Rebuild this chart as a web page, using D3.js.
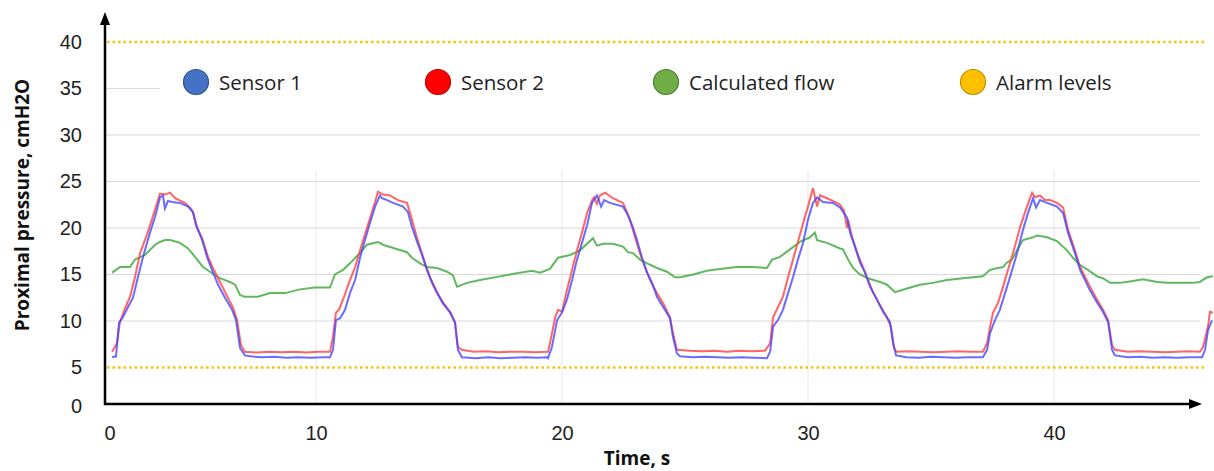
<!DOCTYPE html>
<html>
<head>
<meta charset="utf-8">
<script src="https://cdn.jsdelivr.net/npm/d3@7"></script>
<style>
  body { margin: 0; background: #fff; }
  svg { display: block; font-family: "Open Sans", "Noto Sans", sans-serif; }
</style>
</head>
<body>
<div id="chart"></div>
<script>
// [time s, pressure cmH2O]
const sensor1 = [
  [1.71,6.1],[1.87,6.2],[1.99,9.8],[2.15,10.4],[2.36,11.5],[2.56,12.5],[2.76,14.7],[2.97,16.9],[3.25,19.5],[3.46,21.2],
  [3.66,23.3],[3.78,23.5],[3.86,22.1],[3.98,22.9],[4.15,22.8],[4.47,22.7],[4.80,22.3],[5.00,21.7],[5.16,20.1],[5.37,18.7],
  [5.57,16.9],[5.77,15.5],[6.02,13.9],[6.30,12.5],[6.59,11.2],[6.75,10.1],[6.91,7.1],[7.11,6.3],[7.32,6.2],[7.8,6.1],
  [8.3,6.15],[8.8,6.05],[9.3,6.1],[9.8,6.05],[10.3,6.1],[10.57,6.1],[10.69,6.9],[10.81,10.1],[10.98,10.3],[11.18,11.2],
  [11.38,13.0],[11.59,14.4],[11.79,16.8],[11.99,18.7],[12.20,20.6],[12.40,22.3],[12.60,23.5],[12.68,23.2],[12.89,23.0],[13.13,22.7],
  [13.54,22.3],[13.74,21.7],[13.90,20.1],[14.11,18.5],[14.31,17.1],[14.51,15.5],[14.72,14.1],[14.92,13.0],[15.16,11.9],[15.45,10.9],
  [15.65,9.8],[15.77,6.9],[15.93,6.1],[16.5,6.0],[17.0,6.1],[17.5,6.0],[18.0,6.05],[18.5,6.1],[19.0,6.05],[19.39,6.1],
  [19.43,6.0],[19.59,7.2],[19.80,10.1],[20.00,10.9],[20.20,12.3],[20.41,14.4],[20.61,16.6],[20.81,18.4],[21.02,20.3],[21.22,22.7],
  [21.42,23.5],[21.59,22.3],[21.71,23.0],[21.95,22.7],[22.48,22.3],[22.64,21.6],[22.85,20.3],[23.05,18.7],[23.25,16.8],[23.46,15.2],
  [23.66,14.1],[23.86,12.6],[24.11,11.5],[24.39,10.3],[24.51,8.3],[24.67,6.5],[24.80,6.2],[25.3,6.1],[25.8,6.15],[26.3,6.1],
  [26.8,6.05],[27.3,6.1],[27.8,6.05],[28.33,6.0],[28.46,6.7],[28.58,9.4],[28.78,10.1],[28.98,11.2],[29.19,13.0],[29.39,14.7],
  [29.59,16.6],[29.80,18.4],[30.00,20.9],[30.20,22.7],[30.37,23.3],[30.61,22.8],[31.02,22.7],[31.30,22.2],[31.59,21.1],[31.71,19.5],
  [31.91,18.0],[32.11,16.3],[32.32,15.2],[32.52,13.7],[32.80,12.3],[33.05,11.0],[33.33,9.9],[33.46,7.6],[33.58,6.3],[34.0,6.1],
  [34.5,6.05],[35.0,6.15],[35.5,6.1],[36.0,6.05],[36.5,6.1],[37.11,6.1],[37.28,6.9],[37.40,8.7],[37.60,10.1],[37.80,11.2],
  [38.01,13.0],[38.21,14.7],[38.50,17.3],[38.74,19.8],[38.94,21.6],[39.15,23.2],[39.27,22.2],[39.43,23.0],[39.72,22.7],[40.12,22.3],
  [40.37,21.6],[40.57,19.5],[40.85,17.3],[41.06,15.5],[41.26,14.4],[41.46,13.3],[41.75,12.0],[41.99,11.0],[42.20,9.9],[42.36,6.9],
  [42.48,6.3],[43.0,6.1],[43.5,6.15],[44.0,6.05],[44.5,6.1],[45.0,6.05],[45.5,6.1],[46.02,6.1],[46.14,6.9],[46.26,9.0],[46.42,10.1]
];

const sensor2 = [
  [1.71,6.7],[1.91,7.6],[2.03,9.9],[2.24,11.4],[2.44,12.6],[2.64,14.7],[2.85,17.3],[3.13,19.3],[3.33,20.9],[3.54,22.7],
  [3.66,23.7],[3.86,23.6],[4.07,23.8],[4.27,23.2],[4.67,22.7],[4.88,22.2],[5.00,21.7],[5.12,20.3],[5.37,18.9],[5.61,16.9],
  [5.81,15.7],[6.10,14.2],[6.38,12.7],[6.63,11.4],[6.79,10.1],[6.95,7.4],[7.11,6.7],[7.6,6.6],[8.1,6.7],[8.6,6.65],
  [9.1,6.7],[9.6,6.6],[10.1,6.7],[10.57,6.7],[10.69,8.3],[10.81,10.9],[10.93,11.2],[11.14,12.6],[11.38,14.4],[11.59,15.8],
  [11.79,17.6],[11.99,19.3],[12.20,21.1],[12.40,22.8],[12.52,23.9],[12.72,23.6],[13.01,23.5],[13.33,23.0],[13.70,22.7],[13.90,20.9],
  [14.11,18.9],[14.35,16.9],[14.63,14.7],[14.92,13.1],[15.16,12.0],[15.45,11.0],[15.65,9.9],[15.77,7.2],[15.93,6.9],[16.4,6.7],
  [16.9,6.75],[17.4,6.65],[17.9,6.7],[18.4,6.7],[18.9,6.65],[19.43,6.7],[19.51,7.6],[19.72,10.4],[19.84,11.2],[20.00,11.0],
  [20.20,13.3],[20.41,15.5],[20.61,17.6],[20.81,19.5],[21.02,21.6],[21.22,23.0],[21.30,23.3],[21.42,22.6],[21.54,23.5],[21.75,23.8],
  [22.07,23.2],[22.48,22.7],[22.64,21.7],[22.76,20.9],[22.97,19.0],[23.17,17.3],[23.37,15.8],[23.58,14.4],[23.86,13.0],[24.11,11.9],
  [24.39,10.4],[24.51,8.7],[24.67,6.9],[25.2,6.8],[25.7,6.75],[26.2,6.8],[26.7,6.7],[27.2,6.8],[27.7,6.75],[28.25,6.8],
  [28.46,7.6],[28.58,10.4],[28.78,11.5],[28.98,12.6],[29.19,14.7],[29.39,16.6],[29.59,18.5],[29.80,20.5],[30.00,22.3],[30.20,24.3],
  [30.37,22.3],[30.49,23.5],[30.77,23.2],[31.18,22.7],[31.30,22.5],[31.46,21.9],[31.59,20.0],[31.63,20.9],[31.79,19.0],[31.99,17.4],
  [32.20,16.0],[32.40,14.7],[32.64,13.1],[32.93,11.7],[33.21,10.4],[33.37,9.4],[33.50,7.1],[33.6,6.7],[34.1,6.75],[34.6,6.7],
  [35.1,6.65],[35.6,6.7],[36.1,6.75],[36.6,6.7],[37.11,6.7],[37.28,7.6],[37.40,9.4],[37.52,10.9],[37.72,11.9],[37.93,13.7],
  [38.13,15.5],[38.41,18.0],[38.62,20.1],[38.90,22.3],[39.11,23.8],[39.23,23.3],[39.43,23.5],[39.63,23.0],[39.84,23.0],[40.12,22.7],
  [40.37,22.2],[40.57,19.8],[40.85,17.6],[41.06,15.8],[41.46,13.7],[41.75,12.3],[41.99,11.2],[42.20,10.1],[42.36,7.4],[42.48,6.9],
  [43.0,6.7],[43.5,6.75],[44.0,6.7],[44.5,6.65],[45.0,6.7],[45.5,6.75],[45.93,6.7],[46.06,7.2],[46.26,9.4],[46.34,11.0],[46.46,10.9]
];

const calculatedFlow = [
  [1.71,15.2],[2.03,15.8],[2.44,15.8],[2.64,16.6],[3.05,17.1],[3.46,18.2],[3.66,18.5],[3.86,18.7],[4.07,18.7],[4.47,18.4],
  [4.80,17.8],[5.08,16.9],[5.41,15.8],[5.69,15.3],[6.10,14.6],[6.50,14.2],[6.71,13.9],[6.91,12.8],[7.11,12.6],[7.64,12.6],
  [8.13,13.0],[8.74,13.0],[9.35,13.4],[9.96,13.6],[10.57,13.6],[10.77,15.0],[11.10,15.5],[11.38,16.2],[11.71,17.1],[12.07,18.2],
  [12.52,18.5],[12.72,18.2],[13.21,17.8],[13.70,17.4],[13.90,16.8],[14.23,16.2],[14.51,15.8],[14.92,15.7],[15.33,15.3],[15.57,14.9],
  [15.73,13.7],[16.14,14.1],[16.67,14.4],[17.48,14.8],[18.29,15.2],[18.78,15.4],[19.11,15.2],[19.51,15.6],[19.84,16.8],[20.33,17.1],
  [20.73,17.6],[21.26,18.9],[21.42,18.1],[21.67,18.3],[22.07,18.3],[22.48,18.0],[22.68,17.4],[22.89,17.3],[23.17,16.6],[23.46,16.2],
  [23.86,15.7],[24.27,15.3],[24.59,14.7],[24.80,14.7],[25.33,15.0],[25.89,15.4],[26.42,15.6],[27.11,15.8],[27.76,15.8],[28.33,15.7],
  [28.54,16.6],[28.86,16.9],[29.27,17.7],[29.67,18.5],[30.08,19.0],[30.28,19.5],[30.37,18.7],[30.77,18.4],[31.30,17.8],[31.42,17.7],
  [31.63,16.6],[31.83,15.7],[32.11,15.0],[32.44,14.6],[32.93,14.2],[33.21,13.9],[33.54,13.1],[34.02,13.5],[34.55,13.9],[35.08,14.1],
  [35.65,14.4],[36.30,14.6],[37.11,14.8],[37.40,15.5],[37.72,15.7],[37.93,15.8],[38.09,16.3],[38.29,16.6],[38.50,17.6],[38.74,18.7],
  [39.15,19.0],[39.31,19.2],[39.72,19.0],[40.12,18.6],[40.53,17.6],[40.77,16.8],[41.06,16.0],[41.38,15.5],[41.75,14.8],[41.99,14.6],
  [42.28,14.1],[42.68,14.1],[43.21,14.3],[43.62,14.5],[44.19,14.2],[44.59,14.1],[45.65,14.1],[45.93,14.2],[46.22,14.7],[46.46,14.8]
];

const alarmLevels = [5, 40];
const yTicks = [0, 5, 10, 15, 20, 25, 30, 35, 40];
const xTicks = [0, 10, 20, 30, 40];
const legendNames = ["Sensor 1", "Sensor 2", "Calculated flow", "Alarm levels"];

const W = 1214, H = 471;
const originX = 105, originY = 404, xEnd = 1202, gridEnd = 1200;

const svg = d3.select("#chart").append("svg")
  .attr("width", W)
  .attr("height", H);

const x = d3.scaleLinear().domain([0, 46]).range([70, 70 + 46 * 24.6]);
const y = d3.scaleLinear().domain([0, 40]).range([414, 42]);

// grid
svg.append("g").selectAll("line")
  .data(xTicks.filter(d => d > 0))
  .enter().append("line")
  .attr("x1", d => x(d)).attr("x2", d => x(d))
  .attr("y1", 170).attr("y2", originY)
  .attr("stroke", "#efefef").attr("stroke-width", 1.5)

svg.append("g").selectAll("line")
  .data(yTicks.filter(d => d >= 10 && d <= 35))
  .enter().append("line")
  .attr("x1", originX).attr("x2", gridEnd)
  .attr("y1", d => y(d)).attr("y2", d => y(d))
  .attr("stroke", "#d9d9d9").attr("stroke-width", 1.2)

// alarm levels
svg.append("g").selectAll("line")
  .data(alarmLevels)
  .enter().append("line")
  .attr("x1", originX + 2).attr("x2", 1206)
  .attr("y1", d => y(d)).attr("y2", d => y(d))
  .attr("stroke", "#FFC000").attr("stroke-width", 2.5)
  .attr("stroke-dasharray", "2.5,3")

// series
const line = d3.line().x(d => x(d[0])).y(d => y(d[1]))

svg.append("path").datum(calculatedFlow)
  .attr("d", line).attr("fill", "none")
  .attr("stroke", "#4fb04f").attr("stroke-width", 2).attr("stroke-opacity", 0.9)
svg.append("path").datum(sensor2)
  .attr("d", line).attr("fill", "none")
  .attr("stroke", "#ff4a4a").attr("stroke-width", 2).attr("stroke-opacity", 0.85)
svg.append("path").datum(sensor1)
  .attr("d", line).attr("fill", "none")
  .attr("stroke", "#4646ff").attr("stroke-width", 2).attr("stroke-opacity", 0.8)

// legend (white box hides the 35 gridline)
svg.append("rect")
  .attr("x", 160).attr("y", 62).attr("width", gridEnd - 160).attr("height", 42)
  .attr("fill", "#fff")

const legendFill = ["#4472C4", "#FF0000", "#70AD47", "#FFC000"]
const legendStroke = ["#2F528F", "#C00000", "#507E32", "#BC8C00"]
const legendX = [196, 438, 666, 973]

const items = svg.append("g").selectAll("g")
  .data(legendNames)
  .enter().append("g")
  .attr("transform", (d, i) => "translate(" + legendX[i] + ",82)")
items.append("circle")
  .attr("r", 12.5)
  .attr("fill", (d, i) => legendFill[i])
  .attr("stroke", (d, i) => legendStroke[i])
  .attr("stroke-width", 1.2)
items.append("text")
  .attr("x", 23).attr("y", 7.5)
  .attr("font-size", 20.5).attr("fill", "#222")
  .text(d => d)

// axes
const yAxis = svg.append("g")
  .attr("transform", "translate(" + originX + ",0)")
  .call(d3.axisLeft(y).tickValues(yTicks).tickSize(0).tickPadding(23))
yAxis.select(".domain").remove()
yAxis.selectAll("text").attr("font-size", 20).attr("fill", "#222").attr("font-family", null)
yAxis.selectAll(".tick").filter(d => d === 0).attr("transform", "translate(0," + (originY + 3) + ")")

const xAxis = svg.append("g")
  .attr("transform", "translate(0," + originY + ")")
  .call(d3.axisBottom(x).tickValues(xTicks).tickSize(0))
xAxis.select(".domain").remove()
xAxis.selectAll("text").attr("font-size", 20).attr("fill", "#222").attr("font-family", null)
  .attr("dy", null).attr("y", 36)
xAxis.selectAll(".tick").filter(d => d === 0).attr("transform", "translate(" + (originX + 5) + ",0)")

svg.append("line")
  .attr("x1", originX).attr("x2", originX)
  .attr("y1", originY + 1).attr("y2", 22)
  .attr("stroke", "#000").attr("stroke-width", 2.5)
svg.append("path")
  .attr("d", `M${originX},12 L${originX - 5},25 L${originX + 5},25 Z`)
  .attr("fill", "#000")

svg.append("line")
  .attr("x1", originX - 1).attr("x2", xEnd - 10)
  .attr("y1", originY).attr("y2", originY)
  .attr("stroke", "#000").attr("stroke-width", 2.5)
svg.append("path")
  .attr("d", `M${xEnd},${originY} L${xEnd - 13},${originY - 5} L${xEnd - 13},${originY + 5} Z`)
  .attr("fill", "#000")

// titles
svg.append("text")
  .attr("transform", "translate(29,205) rotate(-90)")
  .attr("text-anchor", "middle")
  .attr("font-size", 19).attr("font-weight", "bold").attr("fill", "#111")
  .text("Proximal pressure, cmH2O")

svg.append("text")
  .attr("x", 637).attr("y", 465)
  .attr("text-anchor", "middle")
  .attr("font-size", 19).attr("font-weight", "bold").attr("fill", "#111")
  .text("Time, s")
</script>
</body>
</html>
